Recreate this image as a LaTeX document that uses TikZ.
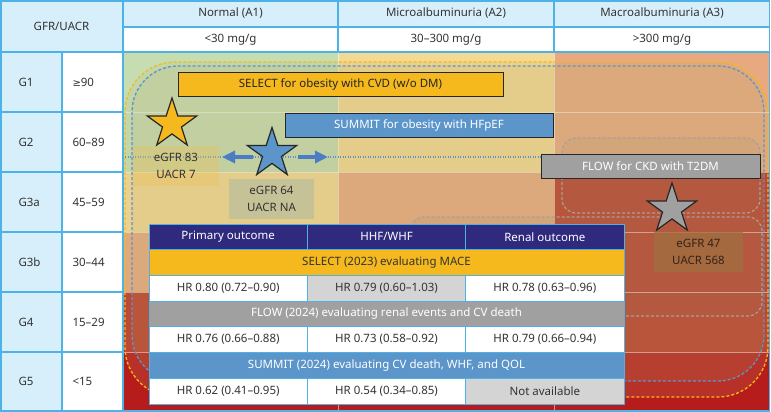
\documentclass[tikz,border=0pt]{standalone}
\usepackage{fontspec}
\setmainfont{Noto Sans}
\newfontfamily\symfont{DejaVu Sans}
\usetikzlibrary{shapes.geometric,arrows.meta}
\definecolor{hdrblue}{HTML}{D7EFFA}
\definecolor{lineblue}{HTML}{4DB3E6}
\definecolor{cgreen}{HTML}{C6DDB2}
\definecolor{cyellow}{HTML}{F3D994}
\definecolor{corange}{HTML}{E8A980}
\definecolor{cred}{HTML}{BB3A2C}
\definecolor{cdred}{HTML}{B71C1C}
\definecolor{amber}{HTML}{F5B91D}
\definecolor{sblue}{HTML}{5B95CA}
\definecolor{arrblue}{HTML}{4A7DC4}
\definecolor{fgray}{HTML}{A0A0A0}
\definecolor{navy}{HTML}{2F2A7E}
\definecolor{txt}{HTML}{333333}
\definecolor{lgray}{HTML}{D4D4D4}
\definecolor{ovl}{HTML}{B9AA6E}
\definecolor{dgray}{HTML}{A8A098}
\tikzset{
  hdrtext/.style={font=\fontsize{11.5}{13}\selectfont, text=txt},
  bar/.style={draw=black!85, line width=1, minimum height=24, inner sep=0, font=\fontsize{11.5}{13}\selectfont},
  labbox/.style={minimum width=86, minimum height=40, inner sep=0, align=center, font=\fontsize{11.5}{17}\selectfont, text=txt},
  fivestar/.style={star, star points=5, star point ratio=2.618, minimum size=52, inner sep=0, draw=black!85, line width=1.2},
  tcell/.style={draw=lineblue, line width=0.8, minimum width=158.33, minimum height=25.71, inner sep=0, font=\fontsize{11.5}{13}\selectfont, text=txt},
  trow/.style={draw=lineblue, line width=0.8, minimum width=475, minimum height=25.71, inner sep=0, font=\fontsize{11.5}{13}\selectfont},
  bigarrow/.style={arrblue, line width=4, -{Triangle[length=13, width=12]}},
  gridline/.style={white, opacity=0.55, line width=1},
  dashamber/.style={amber, line width=1.3, dash pattern=on 3pt off 2pt},
  dashblue/.style={sblue, line width=1.3, dash pattern=on 3pt off 2pt},
  dashgray/.style={dgray, line width=1.2, dash pattern=on 3pt off 2pt},
}
\begin{document}
\begin{tikzpicture}[x=1pt,y=-1pt]
\useasboundingbox (0,0) rectangle (771,412);
% ---------- left and header panel ----------
\fill[hdrblue] (0,0) rectangle (123,52);
\fill[hdrblue] (123,0) rectangle (770,27);
\fill[white] (123,27) rectangle (770,52);
\fill[hdrblue] (0,52) rectangle (62,411);
\fill[white] (62,52) rectangle (123,411);
% ---------- heat map ----------
\fill[cgreen]  (123,52)  rectangle (338,172);
\fill[cyellow] (123,172) rectangle (338,232);
\fill[corange] (123,232) rectangle (338,292);
\fill[cred]    (123,292) rectangle (338,352);
\fill[cdred]   (123,352) rectangle (338,411);
\fill[cyellow] (338,52)  rectangle (554,172);
\fill[corange] (338,172) rectangle (554,232);
\fill[cred]    (338,232) rectangle (554,352);
\fill[cdred]   (338,352) rectangle (554,411);
\fill[corange] (554,52)  rectangle (770,172);
\fill[cred]    (554,172) rectangle (770,352);
\fill[cdred]   (554,352) rectangle (770,411);
\foreach \yy in {112,172,232,292,352} \draw[gridline] (123,\yy) -- (770,\yy);
\foreach \xx in {338,554} \draw[gridline] (\xx,52) -- (\xx,411);
% ---------- grid lines of the frame ----------
\draw[lineblue, line width=1.2] (123,27) -- (770,27);
\draw[lineblue, line width=1.2] (0,52) -- (770,52);
\foreach \yy in {112,172,232,292,352} \draw[lineblue, line width=1.2] (0,\yy) -- (123,\yy);
\draw[lineblue, line width=1.2] (62,52) -- (62,411);
\draw[lineblue, line width=1.2] (123,0) -- (123,411);
\draw[lineblue, line width=1.2] (338,0) -- (338,52);
\draw[lineblue, line width=1.2] (554,0) -- (554,52);
\draw[lineblue, line width=1.6] (0.8,0.8) rectangle (769.5,410.8);
% ---------- header texts ----------
\node[hdrtext] (gfr) at (61.5,26) {GFR/UACR};
\node[hdrtext] (a1) at (230.5,13.5) {Normal (A1)};
\node[hdrtext] (a2) at (446,13.5) {Microalbuminuria (A2)};
\node[hdrtext] (a3) at (662,13.5) {Macroalbuminuria (A3)};
\node[hdrtext] (a1v) at (230.5,39.5) {<30 mg/g};
\node[hdrtext] (a2v) at (446,39.5) {30–300 mg/g};
\node[hdrtext] (a3v) at (662,39.5) {>300 mg/g};
\node[hdrtext, anchor=west] (g1) at (15,82) {G1};
\node[hdrtext, anchor=west] (g2) at (15,142) {G2};
\node[hdrtext, anchor=west] (g3a) at (15,202) {G3a};
\node[hdrtext, anchor=west] (g3b) at (15,262) {G3b};
\node[hdrtext, anchor=west] (g4) at (15,322) {G4};
\node[hdrtext, anchor=west] (g5) at (15,381.5) {G5};
\node[hdrtext, anchor=west] (v1) at (69,82) {{\symfont\fontsize{10}{12}\selectfont ≥}90};
\node[hdrtext, anchor=west] (v2) at (69,142) {60–89};
\node[hdrtext, anchor=west] (v3a) at (69,202) {45–59};
\node[hdrtext, anchor=west] (v3b) at (69,262) {30–44};
\node[hdrtext, anchor=west] (v4) at (69,322) {15–29};
\node[hdrtext, anchor=west] (v5) at (69,381.5) {<15};
% ---------- overlay regions ----------
\fill[ovl, opacity=0.15, rounded corners=50] (125,62) rectangle (768,397);
\fill[ovl, opacity=0.12, rounded corners=46] (132,66) rectangle (764,381);
\fill[gray, opacity=0.08, rounded corners=14] (562,138) rectangle (760,213);
\fill[gray, opacity=0.08, rounded corners=14] (410,217) rectangle (762,316);
\draw[dashamber, rounded corners=50] (125,62) rectangle (768,397);
\draw[dashblue, rounded corners=46] (132,66) rectangle (764,381);
\draw[dashgray, rounded corners=14] (562,138) rectangle (760,213);
\draw[dashgray, rounded corners=14] (410,217) rectangle (762,316);
% ---------- trial bars ----------
\node[bar, fill=amber, text=black!85, minimum width=325] (selbar) at (340.5,84.5) {SELECT for obesity with CVD (w/o DM)};
\node[bar, fill=sblue, text=white, minimum width=268] (sumbar) at (419,125) {SUMMIT for obesity with HFpEF};
\node[bar, fill=fgray, text=white, minimum width=219] (flowbar) at (650.5,166) {FLOW for CKD with T2DM};
% ---------- dotted line and label boxes ----------
\coordinate (dotl) at (125,157);
\draw[sblue, line width=1.1, dash pattern=on 1pt off 1.5pt] (dotl) -- (flowbar.west |- dotl);
\node[labbox, fill={rgb,255:red,239;green,195;blue,90}, fill opacity=0.35, text opacity=1] (lab83) at (176,166) {eGFR 83\\UACR 7};
\node[labbox, minimum width=85, fill={rgb,255:red,169;green,185;blue,166}, fill opacity=0.5, text opacity=1] (lab64) at (271.5,199) {eGFR 64\\UACR NA};
\node[labbox, minimum width=89, fill={rgb,255:red,160;green,112;blue,63}, fill opacity=0.75, text opacity=1, text={rgb,255:red,50;green,35;blue,25}] (lab47) at (698.5,252) {eGFR 47\\UACR 568};
% ---------- stars ----------
\node[fivestar, fill=amber] (ystar) at (172,124) {};
\node[fivestar, fill=sblue] (bstar) at (272,153.5) {};
\node[fivestar, fill=fgray] (gstar) at (672,209) {};
% ---------- arrows ----------
\coordinate (lt) at (253,157);
\coordinate (lh) at (222,157);
\coordinate (rt) at (298,157);
\coordinate (rh) at (328,157);
\draw[bigarrow] (lt) -- (lh);
\draw[bigarrow] (rt) -- (rh);
% ---------- results table ----------
\node[tcell, fill=navy, text=white] (h1) at (228.17,236.86) {Primary outcome};
\node[tcell, fill=navy, text=white] (h2) at (386.5,236.86) {HHF/WHF};
\node[tcell, fill=navy, text=white] (h3) at (544.83,236.86) {Renal outcome};
\node[trow, fill=amber, text=txt] (selrow) at (386.5,262.57) {SELECT (2023) evaluating MACE};
\node[tcell, fill=white] (s1) at (228.17,288.29) {HR 0.80 (0.72–0.90)};
\node[tcell, fill=lgray] (s2) at (386.5,288.29) {HR 0.79 (0.60–1.03)};
\node[tcell, fill=white] (s3) at (544.83,288.29) {HR 0.78 (0.63–0.96)};
\node[trow, fill=fgray, text=white] (flowrow) at (386.5,314) {FLOW (2024) evaluating renal events and CV death};
\node[tcell, fill=white] (f1) at (228.17,339.71) {HR 0.76 (0.66–0.88)};
\node[tcell, fill=white] (f2) at (386.5,339.71) {HR 0.73 (0.58–0.92)};
\node[tcell, fill=white] (f3) at (544.83,339.71) {HR 0.79 (0.66–0.94)};
\node[trow, fill=sblue, text=white] (sumrow) at (386.5,365.43) {SUMMIT (2024) evaluating CV death, WHF, and QOL};
\node[tcell, fill=white] (m1) at (228.17,391.14) {HR 0.62 (0.41–0.95)};
\node[tcell, fill=white] (m2) at (386.5,391.14) {HR 0.54 (0.34–0.85)};
\node[tcell, fill=lgray] (m3) at (544.83,391.14) {Not available};
\end{tikzpicture}
\end{document}
